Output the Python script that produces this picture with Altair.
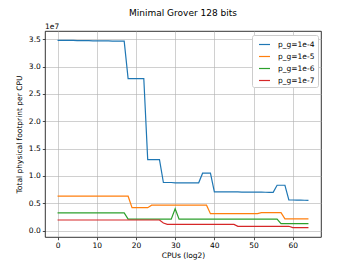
import altair as alt
import pandas as pd

cpus = list(range(65))

blue = ([3.48, 3.48, 3.48, 3.48, 3.48, 3.475, 3.475, 3.475, 3.475, 3.47, 3.47, 3.47,
         3.47, 3.47, 3.465, 3.465, 3.465, 3.465]
        + [2.78] * 5 + [1.30] * 4
        + [0.88, 0.88, 0.88, 0.875, 0.875, 0.875, 0.875, 0.875, 0.875, 0.875]
        + [1.05] * 3
        + [0.71, 0.71, 0.71, 0.71, 0.708, 0.708, 0.708, 0.706, 0.706, 0.705, 0.705, 0.704,
           0.703, 0.702, 0.701, 0.70]
        + [0.83] * 3
        + [0.56, 0.56, 0.558, 0.557, 0.556, 0.555])
orange = [0.63] * 19 + [0.42] * 5 + [0.465] * 15 + [0.31] * 13 + [0.33] * 6 + [0.215] * 7
green = [0.325] * 18 + [0.21] * 12 + [0.40] + [0.21] * 26 + [0.13] * 8
red = [0.195] * 27 + [0.14] + [0.115] * 18 + [0.08] * 14 + [0.055] * 5

series = ["p_g=1e-4", "p_g=1e-5", "p_g=1e-6", "p_g=1e-7"]
colors = ["#1f77b4", "#ff7f0e", "#2ca02c", "#d62728"]
values = [blue, orange, green, red]

rows = []
for name, vals in zip(series, values):
    for c, v in zip(cpus, vals):
        rows.append({"cpus": c, "value": v, "series": name})
df = pd.DataFrame(rows)

x_ticks = [0, 10, 20, 30, 40, 50, 60]
y_ticks = [0.0, 0.5, 1.0, 1.5, 2.0, 2.5, 3.0, 3.5]

font = "DejaVu Sans"

lines = alt.Chart(df).mark_line(strokeWidth=1.2, clip=True).encode(
    x=alt.X("cpus:Q", scale=alt.Scale(domain=[-3.2, 67.2], nice=False, zero=False),
            axis=alt.Axis(values=x_ticks, title="CPUs (log2)", format="d",
                          titlePadding=2)),
    y=alt.Y("value:Q", scale=alt.Scale(domain=[-0.116, 3.65], nice=False, zero=False),
            axis=alt.Axis(values=y_ticks, title="Total physical footprint per CPU",
                          format=".1f", titlePadding=5)),
    color=alt.Color("series:N", scale=alt.Scale(domain=series, range=colors),
                    legend=alt.Legend(title=None, orient="none", legendX=207, legendY=4,
                                      fillColor="white", strokeColor="#cccccc",
                                      cornerRadius=2, padding=3, rowPadding=2,
                                      symbolType="stroke", symbolSize=120,
                                      symbolStrokeWidth=1.2, labelFontSize=7.5,
                                      labelFont=font, labelOffset=7, symbolOffset=3)),
)

offset_text = alt.Chart(pd.DataFrame({"t": ["1e7"]})).mark_text(
    align="left", baseline="alphabetic", fontSize=7.5, font=font, color="black"
).encode(x=alt.value(0), y=alt.value(-2), text="t:N")

chart = alt.layer(lines, offset_text).properties(
    width=276, height=206,
    title=alt.TitleParams("Minimal Grover 128 bits", fontSize=9, font=font,
                          fontWeight="normal", offset=5, color="black"),
    autosize=alt.AutoSizeParams(type="none"),
    padding={"left": 37, "top": 23, "right": 20, "bottom": 29},
).configure_view(stroke="black", strokeWidth=0.8).configure_axis(
    grid=True, gridColor="#b0b0b0", gridWidth=0.6, domain=False,
    tickColor="black", tickSize=2.7, tickWidth=0.7,
    labelFont=font, labelFontSize=7.5, labelColor="black", labelPadding=2,
    titleFont=font, titleFontSize=7.5, titleFontWeight="normal", titleColor="black",
)

chart.save("out.html", embed_options={"renderer": "svg", "actions": False})
